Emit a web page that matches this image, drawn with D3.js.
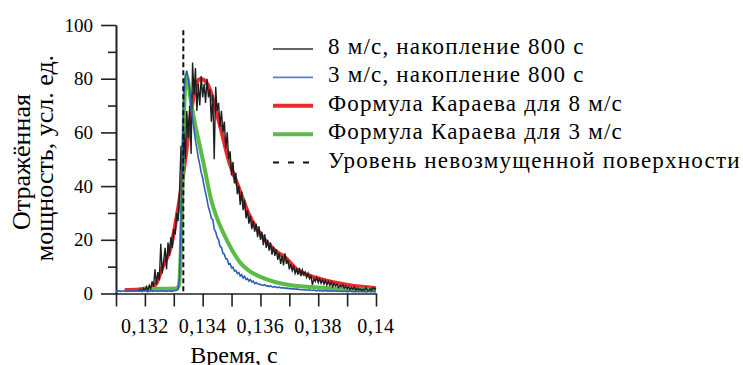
<!DOCTYPE html>
<html>
  <head>
    <meta charset="utf-8">
    <title>Отражённая мощность</title>
    <script src="https://d3js.org/d3.v7.min.js"></script>
    <style>
      body { margin: 0; background: #fff; }
    </style>
  </head>
  <body>
    <div id="chart"></div>
    <script>
      // measured trace, 8 m/s (start time, step, values)
      var black8Start = 0.1318, black8Step = 0.00005;
      var black8 = [
        1.0, 1.5, 0.8, 2.0, 1.2, 2.5, 1.0, 3.0, 1.8, 4.5,
        2.5, 9.0, 3.5, 8.0, 5.0, 18.5, 7.5, 12.0, 17.0, 9.0,
        19.0, 14.0, 21.0, 17.0, 24.0, 22.0, 30.0, 27.0, 38.0, 55.0,
        44.0, 60.0, 50.0, 68.0, 58.0, 70.0, 52.0, 86.0, 74.0, 84.0,
        68.0, 78.0, 70.0, 81.0, 73.0, 78.0, 71.0, 80.0, 73.0, 76.0,
        64.0, 74.0, 50.0, 77.0, 68.0, 71.0, 62.0, 68.0, 60.0, 64.0,
        54.0, 60.0, 50.0, 53.0, 44.0, 49.0, 41.0, 45.0, 37.0, 40.0,
        33.0, 38.0, 31.0, 35.0, 28.0, 31.0, 26.0, 29.0, 24.0, 27.0,
        23.0, 26.0, 21.0, 25.0, 20.0, 23.0, 18.0, 22.0, 17.0, 20.0,
        16.0, 19.0, 14.5, 17.5, 14.0, 16.5, 12.5, 15.0, 11.0, 14.0,
        10.5, 15.0, 11.0, 12.5, 9.0, 11.0, 8.5, 10.0, 7.5, 9.0,
        7.0, 9.5, 6.5, 8.8, 7.0, 8.0, 6.0, 7.5, 5.5, 6.5,
        3.2, 5.5, 4.5, 6.0, 4.0, 5.5, 3.8, 5.0, 3.5, 4.8,
        3.2, 4.5, 3.0, 4.2, 2.5, 3.8, 2.8, 3.5, 2.2, 3.0,
        2.5, 3.2, 2.0, 2.8, 1.8, 2.5, 1.5, 2.2, 1.6, 2.4,
        1.2, 2.0, 1.4, 1.8, 1.0, 1.6, 1.2, 2.2, 1.3, 1.0,
        1.8, 1.2, 2.2, 1.5, 2.0
      ];

      // measured trace, 3 m/s
      var blue3Start = 0.131, blue3Step = 0.00005;
      var blue3 = [
        0.9, 0.9, 1.0, 0.8, 0.9, 1.0, 0.9, 0.8, 1.0, 0.9,
        0.9, 1.0, 0.8, 0.9, 1.0, 0.9, 0.9, 1.0, 0.8, 0.9,
        1.0, 0.9, 0.9, 0.8, 1.0, 0.9, 0.9, 1.0, 0.9, 0.8,
        0.9, 1.0, 0.9, 0.9, 1.0, 0.8, 0.9, 1.0, 0.9, 0.9,
        1.0, 1.1, 1.2, 1.6, 6.0, 28.0, 55.0, 74.0, 81.0, 83.0,
        80.0, 76.0, 69.0, 65.0, 61.0, 57.0, 54.0, 50.5, 48.0, 45.0,
        43.0, 40.0, 37.5, 35.0, 32.0, 30.5, 28.0, 27.5, 24.0, 23.0,
        21.0, 20.0, 17.5, 17.2, 15.0, 14.6, 13.0, 12.8, 11.0, 11.2,
        9.6, 9.8, 8.4, 8.6, 7.4, 7.8, 6.5, 7.0, 5.8, 6.4,
        5.2, 5.6, 4.6, 5.2, 4.3, 4.6, 3.7, 4.1, 3.6, 3.5,
        3.3, 3.2, 3.0, 3.3, 2.8, 2.9, 2.6, 2.8, 2.5, 2.4,
        2.6, 2.3, 2.2, 2.4, 2.1, 2.2, 2.0, 2.1, 1.9, 2.0,
        1.8, 1.9, 1.7, 1.8, 1.6, 1.7, 1.5, 1.6, 1.4, 1.5,
        1.3, 1.4, 1.3, 1.2, 1.4, 1.2, 1.1, 1.3, 1.1, 1.0,
        1.2, 1.0, 1.1, 0.9, 1.0, 1.1, 0.9, 1.0, 0.8, 1.0,
        0.9, 0.9, 1.0, 0.8, 0.9, 0.8, 0.9, 0.7, 0.9, 0.8,
        0.8, 0.7, 0.9, 0.8, 0.7, 0.8, 0.7, 0.8, 0.6, 0.8,
        0.7, 0.7, 0.8, 0.7, 0.6, 0.8, 0.7, 0.7, 0.8, 0.7,
        0.7
      ];

      // Karaev formula, 8 m/s
      var red8Time = [0.1313, 0.1318, 0.1320, 0.1322, 0.1324, 0.1326, 0.1329, 0.1331, 0.13327, 0.13345,
        0.13362, 0.13375, 0.13388, 0.13398, 0.1341, 0.13425, 0.13443, 0.13466, 0.13489, 0.13523,
        0.13558, 0.13604, 0.1365, 0.13685, 0.13725, 0.13783, 0.1384, 0.13898, 0.1395, 0.1400];
      var red8 = [1.3, 1.5, 1.8, 2.0, 3.8, 9.5, 17.5, 28.5, 40, 54.5,
        69, 76.5, 79.8, 79.8, 79, 76, 69.5, 60, 50, 40,
        30, 21.5, 16, 13.5, 9, 6.2, 4.5, 3.3, 2.5, 2.0];

      // Karaev formula, 3 m/s
      var green3Time = [0.1319, 0.1325, 0.1331, 0.13318, 0.13324, 0.13328, 0.13332, 0.13336, 0.1334, 0.13345,
        0.1335, 0.13356, 0.13372, 0.13388, 0.13405, 0.13428, 0.1345, 0.13474, 0.1350, 0.1353,
        0.1356, 0.1360, 0.1365, 0.1370, 0.1375, 0.1380, 0.1385, 0.1390, 0.1395, 0.1400];
      var green3 = [1.8, 1.8, 1.9, 3, 15, 30, 50, 68, 78, 81,
        79, 74, 64, 56, 47.5, 35.5, 28, 22, 16.5, 11.5,
        8.5, 6.2, 4.3, 3.2, 2.6, 2.2, 1.9, 1.7, 1.5, 1.4];

      // undisturbed surface level
      var surfaceTime = 0.13333, surfaceTop = 98;

      var xTicks = [0.131, 0.132, 0.133, 0.134, 0.135, 0.136, 0.137, 0.138, 0.139, 0.140];
      var xLabels = [0.132, 0.134, 0.136, 0.138, 0.140];
      var yMajor = [0, 20, 40, 60, 80, 100];
      var yMinor = [10, 30, 50, 70, 90];

      var legendItems = [
        { label: "8 м/с, накопление 800 с", color: "#333333", width: 1.4, dash: null },
        { label: "3 м/с, накопление 800 с", color: "#5b80c8", width: 1.6, dash: null },
        { label: "Формула Караева для 8 м/с", color: "#ea2a2e", width: 4, dash: null },
        { label: "Формула Караева для 3 м/с", color: "#5dba47", width: 4, dash: null },
        { label: "Уровень невозмущенной поверхности", color: "#111111", width: 2, dash: "6,9" }
      ];

      var width = 743, height = 365;
      var serif = "'Liberation Serif', 'DejaVu Serif', 'Noto Serif', FreeSerif, Tinos, 'Times New Roman', serif";
      var svg = d3.select("#chart").append("svg")
        .attr("width", width)
        .attr("height", height)
        .style("display", "block")
        .attr("font-family", serif);

      var x = d3.scaleLinear().domain([0.131, 0.140]).range([116, 376]);
      var y = d3.scaleLinear().domain([0, 100]).range([293.5, 25]);

      var comma = function(v) { return String(+v.toFixed(3)).replace(".", ","); };

      // axes
      svg.append("g")
        .attr("transform", "translate(0," + y(0) + ")")
        .call(d3.axisBottom(x).tickValues(xTicks).tickSize(13).tickSizeOuter(0).tickFormat(""));
      svg.append("g")
        .attr("transform", "translate(" + x(0.131) + ",0)")
        .call(d3.axisLeft(y).tickValues(yMajor).tickSize(15).tickSizeOuter(0).tickFormat(""));
      svg.append("g")
        .attr("transform", "translate(" + x(0.131) + ",0)")
        .call(d3.axisLeft(y).tickValues(yMinor).tickSize(8).tickSizeOuter(0).tickFormat(""));
      svg.selectAll(".domain, .tick line")
        .attr("stroke", "#222")
        .attr("stroke-width", 1.6);

      // tick labels
      svg.append("g").selectAll("text")
        .data(xLabels)
        .enter().append("text")
          .attr("x", function(d) { return x(d); })
          .attr("y", 333)
          .attr("text-anchor", "middle")
          .attr("font-size", 20)
          .attr("letter-spacing", 0.6)
          .text(comma);
      svg.append("g").selectAll("text")
        .data(yMajor)
        .enter().append("text")
          .attr("x", 93)
          .attr("y", function(d) { return y(d) + 6.5; })
          .attr("text-anchor", "end")
          .attr("font-size", 19)
          .text(function(d) { return d; });

      // axis titles
      svg.append("text")
        .attr("x", 234)
        .attr("y", 363)
        .attr("text-anchor", "middle")
        .attr("font-size", 24)
        .text("Время, с");
      svg.append("text")
        .attr("transform", "translate(30,162) rotate(-90)")
        .attr("text-anchor", "middle")
        .attr("font-size", 26)
        .text("Отражённая");
      svg.append("text")
        .attr("transform", "translate(53,158) rotate(-90)")
        .attr("text-anchor", "middle")
        .attr("font-size", 26)
        .text("мощность, усл. ед.");

      // lines
      var line = d3.line()
        .x(function(d) { return x(d[0]); })
        .y(function(d) { return y(d[1]); });
      var smooth = d3.line()
        .curve(d3.curveMonotoneX)
        .x(function(d) { return x(d[0]); })
        .y(function(d) { return y(d[1]); });
      function pairs(times, values) {
        return values.map(function(v, i) { return [times[i], v]; });
      }
      function stepped(start, step, values) {
        return values.map(function(v, i) { return [start + i * step, v]; });
      }

      svg.append("path")
        .datum(pairs(red8Time, red8))
        .attr("d", smooth)
        .attr("fill", "none")
        .attr("stroke", "#ea2a2e")
        .attr("stroke-width", 4);
      svg.append("path")
        .datum(pairs(green3Time, green3))
        .attr("d", smooth)
        .attr("fill", "none")
        .attr("stroke", "#5dba47")
        .attr("stroke-width", 4);
      svg.append("path")
        .datum(stepped(black8Start, black8Step, black8))
        .attr("d", line)
        .attr("fill", "none")
        .attr("stroke", "#1e1e1e")
        .attr("stroke-width", 1.4);
      svg.append("path")
        .datum(stepped(blue3Start, blue3Step, blue3))
        .attr("d", line)
        .attr("fill", "none")
        .attr("stroke", "#2d5fb8")
        .attr("stroke-width", 1.6);
      svg.append("line")
        .attr("x1", x(surfaceTime))
        .attr("x2", x(surfaceTime))
        .attr("y1", y(surfaceTop))
        .attr("y2", y(0))
        .attr("stroke", "#111")
        .attr("stroke-width", 2)
        .attr("stroke-dasharray", "5,3");

      // legend
      var legend = svg.append("g").selectAll("g")
        .data(legendItems)
        .enter().append("g")
          .attr("transform", function(d, i) { return "translate(0," + (54 + i * 28.4) + ")"; });
      legend.append("line")
        .attr("x1", 273)
        .attr("x2", 313)
        .attr("y1", -5)
        .attr("y2", -5)
        .attr("stroke", function(d) { return d.color; })
        .attr("stroke-width", function(d) { return d.width; })
        .attr("stroke-dasharray", function(d) { return d.dash; });
      legend.append("text")
        .attr("x", 328)
        .attr("y", 0)
        .attr("font-size", 23)
        .attr("letter-spacing", 1.2)
        .text(function(d) { return d.label; });
    </script>
  </body>
</html>
